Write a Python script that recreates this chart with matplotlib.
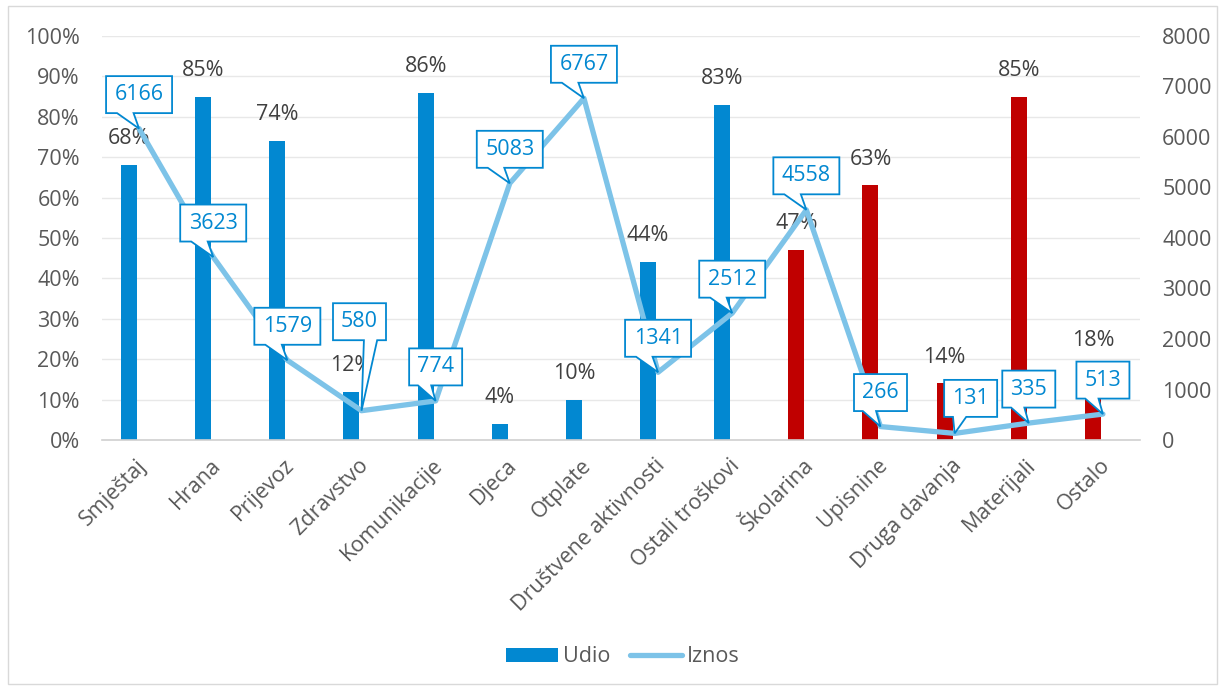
import matplotlib
matplotlib.use("Agg")
import matplotlib.pyplot as plt
from matplotlib.patches import Polygon, Rectangle, Patch
from matplotlib.lines import Line2D
from matplotlib.transforms import ScaledTranslation
from matplotlib.ticker import FuncFormatter, MultipleLocator

# ---- data ----
categories = ["Smještaj", "Hrana", "Prijevoz", "Zdravstvo", "Komunikacije", "Djeca",
              "Otplate", "Društvene aktivnosti", "Ostali troškovi", "Školarina",
              "Upisnine", "Druga davanja", "Materijali", "Ostalo"]
udio = [68, 85, 74, 12, 86, 4, 10, 44, 83, 47, 63, 14, 85, 18]          # %
iznos = [6166, 3623, 1579, 580, 774, 5083, 6767, 1341, 2512, 4558, 266, 131, 335, 513]
group = ["a"] * 9 + ["b"] * 5   # colour group of each bar

# ---- style ----
FONT = "Open Sans"
BLUE = "#0288D1"
RED = "#C00000"
LINE = "#7DC3E8"
TXT = "#595959"
LBL = "#404040"
FS = 15.5

# callout box centre offsets from the point (pixels, x right, y up)
callout_off = [(0, 34)] * 14
callout_off[3] = (-2, 89)
callout_off[11] = (16, 35)

plt.rcParams["font.family"] = [FONT, "DejaVu Sans"]

fig = plt.figure(figsize=(12.25, 6.9), dpi=100)
ax = fig.add_axes([102 / 1225, 1 - 440 / 690, 1038 / 1225, 404 / 690])
ax2 = ax.twinx()

n = len(categories)
xs = list(range(n))
bar_x = [x - 0.135 for x in xs]
colors = [BLUE if g == "a" else RED for g in group]
ax.bar(bar_x, udio, width=0.216, color=colors, zorder=2)

ax.set_xlim(-0.5, n - 0.5)
ax.set_ylim(0, 100)
ax.yaxis.set_major_locator(MultipleLocator(10))
ax.yaxis.set_major_formatter(FuncFormatter(lambda v, p: f"{v:.0f}%"))
ax.grid(axis="y", color="#E8E8E8", lw=1, zorder=0)
ax.set_axisbelow(True)
ax.tick_params(axis="y", length=0, pad=16, labelsize=FS, labelcolor=TXT)
ax.tick_params(axis="x", length=0)
ax.set_xticks(xs)
ax.set_xticklabels([])
for x, c in zip(xs, categories):
    ax.annotate(c, xy=(x, 0), xycoords="data", xytext=(3, -16), textcoords="offset points",
                rotation=45, ha="right", va="center", rotation_mode="anchor",
                fontsize=FS, color=TXT, annotation_clip=False)
for s in ["top", "left", "right"]:
    ax.spines[s].set_visible(False)
ax.spines["bottom"].set_color("#D0D0D0")
ax.spines["bottom"].set_linewidth(1.2)

ax2.set_ylim(0, 8000)
ax2.yaxis.set_major_locator(MultipleLocator(1000))
ax2.tick_params(axis="y", length=0, pad=16, labelsize=FS, labelcolor=TXT)
for s in ax2.spines.values():
    s.set_visible(False)

# percentage labels
for bx, v in zip(bar_x, udio):
    ax.annotate(f"{v}%", xy=(bx, v), xytext=(0, 19), textcoords="offset points",
                ha="center", va="center", fontsize=FS, color=LBL, zorder=3)

# line
ax2.plot(xs, iznos, color=LINE, lw=3.8, solid_joinstyle="round", solid_capstyle="round", zorder=4)

# callouts (wedge rectangle)
for x, v, (dx, cy) in zip(xs, iznos, callout_off):
    tr = fig.dpi_scale_trans + ScaledTranslation(x, v, ax2.transData)
    s = str(v)
    w = 14 + 13 * len(s)
    h = 37
    l, r = dx - w / 2, dx + w / 2
    b, t = cy - h / 2, cy + h / 2
    dxpos = -dx
    if dxpos > 0:
        x1, x2 = l + w * 7 / 12, l + w * 10 / 12
    else:
        x1, x2 = l + w * 2 / 12, l + w * 5 / 12
    pts = [(l, t), (r, t), (r, b), (x2, b), (0, 0), (x1, b), (l, b)]
    pts = [(px / 100, py / 100) for px, py in pts]
    poly = Polygon(pts, closed=True, transform=tr, facecolor="white", edgecolor=BLUE,
                   lw=1.3, zorder=6, clip_on=False)
    ax2.add_patch(poly)
    ax2.text(dx / 100, cy / 100, s, transform=tr, ha="center", va="center",
             fontsize=FS, color=BLUE, zorder=7, clip_on=False)

# legend
handles = [Patch(facecolor=BLUE, edgecolor="none"),
           Line2D([], [], color=LINE, lw=3.8, solid_capstyle="round")]
fig.legend(handles, ["Udio", "Iznos"], loc="center", bbox_to_anchor=(623 / 1225, 1 - 657 / 690),
           ncol=2, frameon=False, fontsize=FS, labelcolor=TXT, handlelength=2.4,
           handletextpad=0.25, columnspacing=0.9, handleheight=0.6)

# outer border
fig.patches.append(Rectangle((8 / 1225, 6 / 690), 1209 / 1225, 678 / 690, transform=fig.transFigure,
                             fill=False, edgecolor="#D9D9D9", lw=1))

fig.savefig("out.png", dpi=100)
